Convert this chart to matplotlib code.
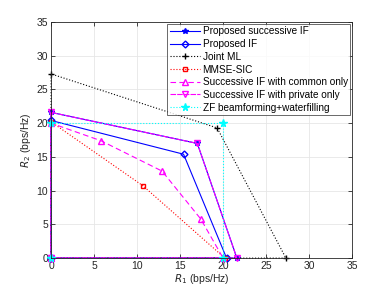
import numpy as np
import matplotlib.pyplot as plt

# =========================================================
# 数据
# =========================================================

# Proposed successive IF
succ_if_r1 = [0, 0, 17.0, 21.6, 0]
succ_if_r2 = [0, 21.6, 17.0, 0, 0]

# Proposed IF
prop_if_r1 = [0, 0, 15.4, 20.4, 0]
prop_if_r2 = [0, 20.4, 15.4, 0, 0]

# Joint ML
ml_r1 = [0, 0, 19.3, 27.3, 0]
ml_r2 = [0, 27.3, 19.3, 0, 0]

# MMSE-SIC
mmse_r1 = [0, 0, 10.7, 20.2, 0]
mmse_r2 = [0, 20.2, 10.7, 0, 0]

# Successive IF with common only
common_r1 = [0, 0, 5.8, 12.9, 17.4, 20.0, 0]
common_r2 = [0, 20.0, 17.4, 12.9, 5.8, 0, 0]

# Successive IF with private only
private_r1 = [0, 0, 17.0, 21.6, 0]
private_r2 = [0, 21.6, 17.0, 0, 0]

# ZF beamforming + waterfilling
zf_r1 = [0, 0, 20.0, 20.0, 0]
zf_r2 = [0, 20.0, 20.0, 0, 0]

labels = [
    "Proposed successive IF",
    "Proposed IF",
    "Joint ML",
    "MMSE-SIC",
    "Successive IF with common only",
    "Successive IF with private only",
    "ZF beamforming+waterfilling",
]

# =========================================================
# 绘图
# =========================================================

plt.rcParams["font.family"] = ["Liberation Sans", "DejaVu Sans"]
plt.rcParams["font.size"] = 7.5

fig = plt.figure(figsize=(3.9, 2.93), dpi=100)
ax = fig.add_axes([0.131, 0.119, 0.772, 0.806])

lw = 0.8
ms = 4
common = dict(linewidth=lw, clip_on=False)

ax.plot(succ_if_r1, succ_if_r2, color="#0000ff", linestyle="-",
        marker="*", markersize=ms, label=labels[0], **common)
ax.plot(prop_if_r1, prop_if_r2, color="#0000ff", linestyle="-",
        marker="D", markersize=3.5, markerfacecolor="none", label=labels[1], **common)
ax.plot(ml_r1, ml_r2, color="black", linestyle=":",
        marker="+", markersize=ms, label=labels[2], **common)
ax.plot(mmse_r1, mmse_r2, color="#ff0000", linestyle=":",
        marker="s", markersize=3.5, markerfacecolor="none", label=labels[3], **common)
ax.plot(common_r1, common_r2, color="#ff00ff", linestyle=(0, (5, 3)),
        marker="^", markersize=ms + 1, markerfacecolor="none", label=labels[4], **common)
ax.plot(private_r1, private_r2, color="#ff00ff", linestyle=(0, (5, 1)),
        marker="v", markersize=ms + 1, markerfacecolor="none", label=labels[5], **common)
ax.plot(zf_r1, zf_r2, color="#00ffff", linestyle=":",
        marker="*", markersize=ms + 1.5, label=labels[6], **common)

ax.set_xlim(0, 35)
ax.set_ylim(0, 35)
ax.set_xticks(np.arange(0, 36, 5))
ax.set_yticks(np.arange(0, 36, 5))
ax.tick_params(direction="in", length=3, width=0.5, top=True, right=True, pad=2,
               labelcolor="#262626")
ax.grid(True, color="#e6e6e6", linewidth=0.6)
ax.set_axisbelow(True)
for sp in ax.spines.values():
    sp.set_linewidth(0.6)
    sp.set_color("#262626")

ax.set_xlabel("$R_1$ (bps/Hz)", labelpad=1, color="#262626")
ax.set_ylabel("$R_2$ (bps/Hz)", labelpad=3, color="#262626")

leg = ax.legend(loc="upper right", fontsize=7.2, frameon=True, fancybox=False,
                edgecolor="#262626", handlelength=3.0, handletextpad=0.3,
                borderpad=0.25, labelspacing=0.27, borderaxespad=0.2)
leg.get_frame().set_linewidth(0.6)

plt.savefig("out.png", dpi=100)
